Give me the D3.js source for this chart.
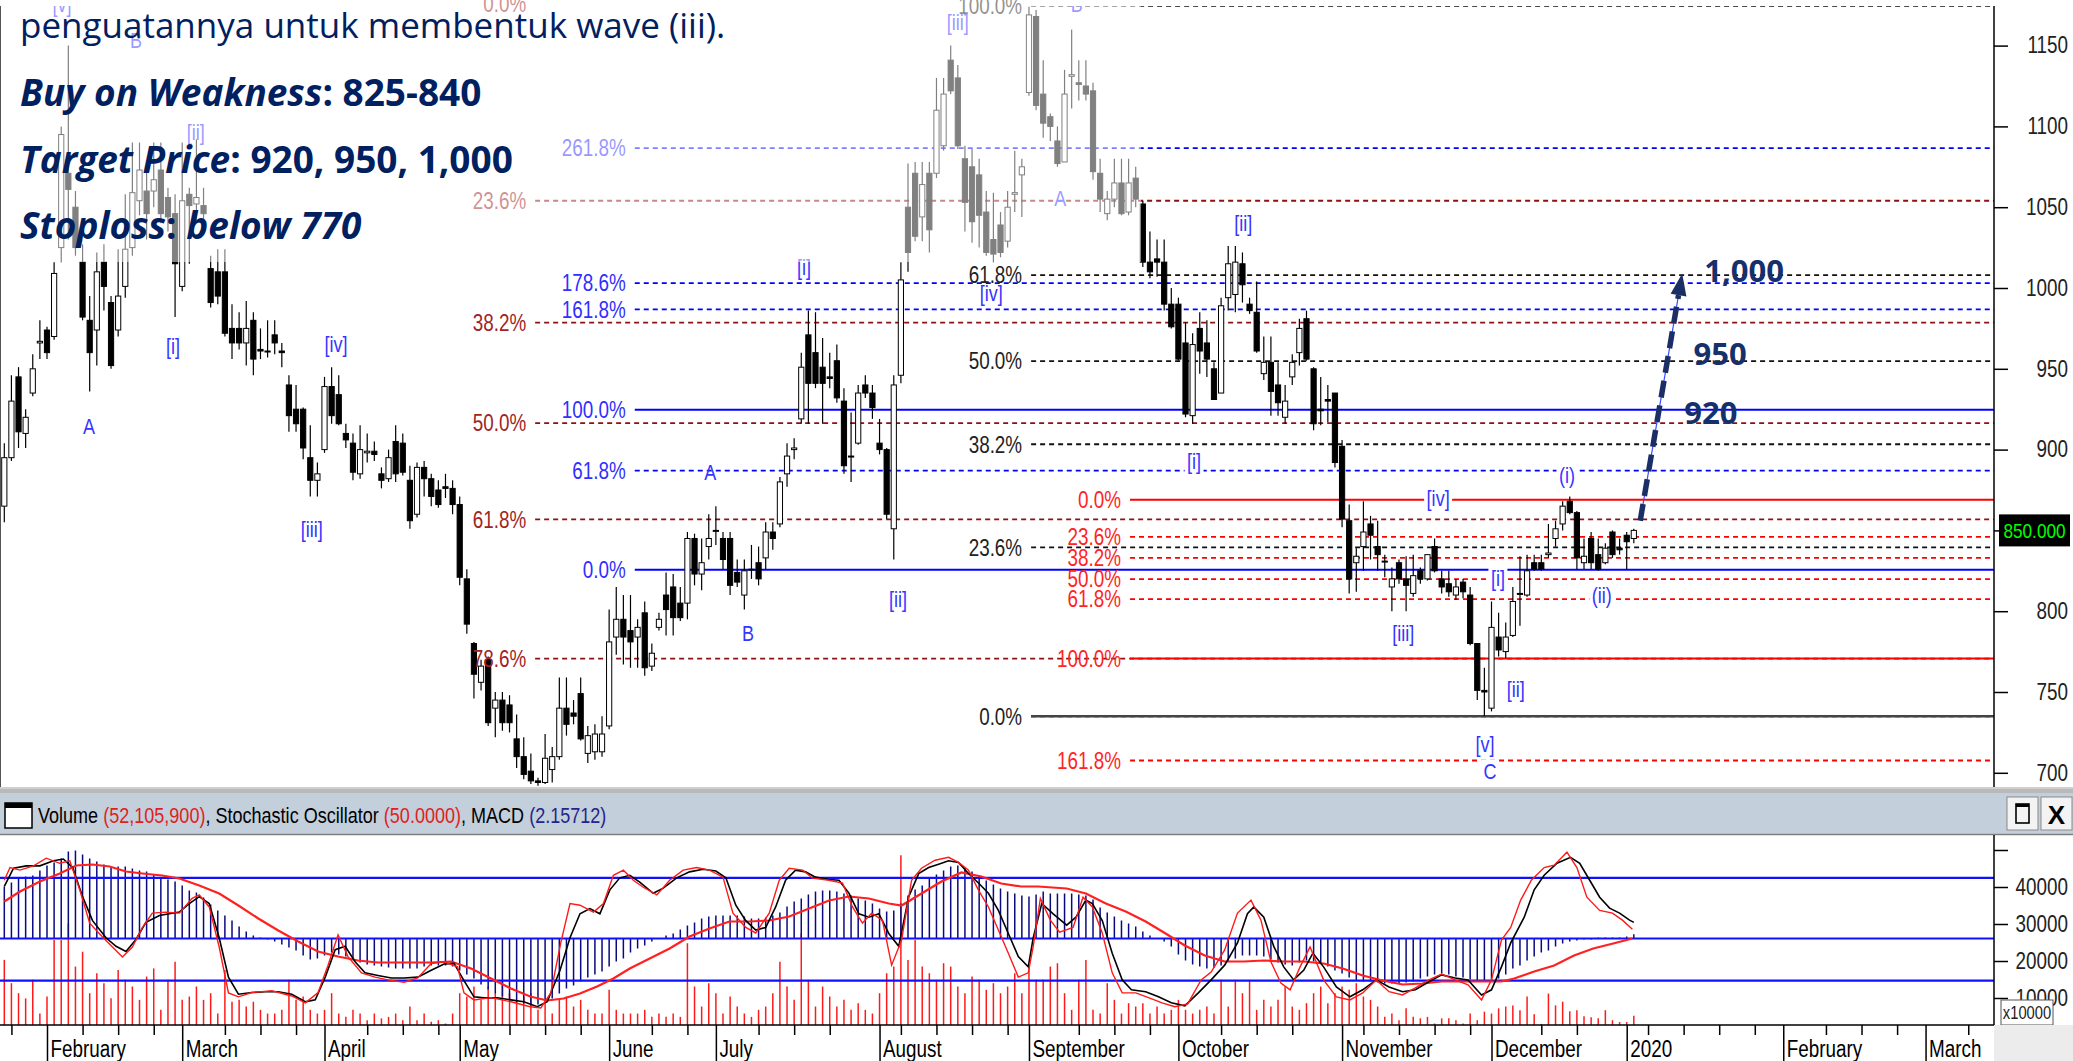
<!DOCTYPE html>
<html>
<head>
<meta charset="utf-8">
<script src="https://cdn.jsdelivr.net/npm/d3@7"></script>
<style>
  html, body { margin: 0; padding: 0; background: #fff; overflow: hidden; }
</style>
</head>
<body>
<div id="chart"></div>
<script>
// ---- daily candles (index 0 = late January 2019, 229 = 30 Dec 2019), rows of 10
var opens = [
  865,895,945,910,935,966,974,970,1025,1071,
  1050,1016,980,974,1016,991,974,1001,1025,1054,
  1060,1060,1073,1056,1046,1001,1058,1052,1051,1012,
  1010,1010,975,975,966,980,962,961,971,961,
  940,925,925,895,881,900,939,934,910,904,
  885,898,899,885,882,905,904,881,860,889,
  882,875,877,876,866,820,780,756,770,740,
  745,742,721,710,701,695,694,702,710,740,
  737,749,712,713,713,729,784,795,788,784,
  799,766,790,810,815,805,805,845,823,840,
  850,845,845,824,810,826,830,833,849,854,
  885,900,919,971,960,951,945,955,930,896,
  904,940,935,904,900,851,946,1050,1071,1044,
  1071,1071,1088,1141,1130,1080,1075,1070,1047,1030,
  1039,1029,1058,1070,1121,1168,1120,1106,1091,1078,
  1131,1127,1125,1122,1071,1046,1055,1065,1047,1068,
  1052,1016,1018,1016,990,990,966,921,975,966,
  950,935,994,996,1015,990,985,947,954,940,
  920,945,960,981,950,925,931,935,902,856,
  830,840,854,840,831,815,830,820,811,825,
  820,840,820,817,810,818,810,780,751,740,
  784,775,785,811,810,830,830,835,845,854,
  868,861,830,845,835,830,849,839,847,845
];
var highs = [
  904,946,951,925,959,980,976,1016,1100,1150,
  1060,1027,995,1022,1027,995,1024,1058,1090,1090,
  1075,1090,1090,1062,1058,1090,1062,1092,1062,1020,
  1024,1024,990,985,992,985,975,980,980,966,
  946,940,926,915,892,945,951,946,916,910,
  915,910,905,889,900,915,910,890,892,893,
  885,881,885,881,871,826,781,770,772,750,
  750,748,736,722,712,697,724,716,759,759,
  745,759,729,730,735,801,815,810,810,795,
  806,780,799,824,823,815,849,848,845,860,
  865,849,849,832,832,841,840,855,855,883,
  904,907,960,986,985,969,960,965,938,923,
  940,946,940,919,901,946,1016,1077,1078,1078,
  1078,1130,1130,1150,1138,1088,1086,1080,1060,1059,
  1047,1060,1085,1080,1174,1172,1141,1108,1100,1135,
  1160,1141,1141,1127,1080,1060,1080,1080,1080,1075,
  1054,1035,1030,1030,1000,994,979,972,985,980,
  954,994,1026,1026,1022,994,1004,970,970,954,
  940,959,981,986,951,945,940,935,906,866,
  839,868,859,856,835,827,832,834,835,827,
  835,845,825,825,820,820,815,780,765,806,
  799,793,815,834,835,835,835,854,856,868,
  871,862,845,849,845,842,850,845,849,851
];
var lows = [
  855,893,901,901,933,956,956,968,1016,1030,
  1020,980,936,952,986,950,970,994,1020,1045,
  1030,1050,1040,1035,982,998,1015,1040,1036,988,
  990,970,956,962,952,946,956,957,959,951,
  911,911,894,871,871,898,916,915,901,881,
  882,892,893,876,880,880,884,851,858,871,
  865,864,870,860,816,786,746,751,729,722,
  726,725,703,696,693,692,693,694,708,723,
  730,720,706,708,710,727,773,767,765,765,
  760,763,788,785,785,794,795,816,813,832,
  841,826,810,815,801,820,816,826,838,852,
  877,894,916,916,938,916,938,929,885,880,
  903,932,919,897,857,832,941,1010,1029,1029,
  1022,1068,1085,1120,1086,1035,1028,1025,1020,1016,
  1019,1025,1047,1044,1119,1110,1093,1091,1075,1078,
  1111,1116,1116,1067,1047,1042,1050,1045,1045,1050,
  1013,1006,1007,986,975,955,920,916,947,945,
  931,935,986,985,991,984,960,943,921,921,
  916,940,952,955,912,915,917,889,852,811,
  812,825,832,825,821,800,817,800,809,817,
  819,824,811,809,807,808,779,745,735,738,
  772,771,784,791,809,825,825,833,840,850,
  860,826,826,826,825,829,833,835,826,842
];
var closes = [
  895,930,911,920,950,967,960,1009,1095,1061,
  1025,982,960,1010,1001,952,995,1024,1059,1073,
  1046,1067,1046,1044,1015,1054,1051,1056,1046,991,
  995,972,966,966,975,956,961,961,966,960,
  921,916,901,881,885,939,921,916,906,886,
  900,899,897,881,895,885,886,856,889,882,
  871,866,876,866,821,792,761,766,731,745,
  731,731,710,699,695,694,709,710,740,730,
  735,721,723,724,724,781,795,784,781,790,
  765,774,795,801,796,796,845,823,830,845,
  850,832,816,818,825,826,820,849,845,880,
  896,901,951,941,941,941,944,932,890,896,
  935,935,926,900,860,940,1005,1022,1032,1064,
  1036,1110,1120,1122,1088,1053,1041,1045,1022,1021,
  1022,1050,1059,1075,1169,1113,1102,1100,1077,1120,
  1132,1126,1120,1072,1055,1055,1065,1046,1065,1055,
  1016,1010,1016,990,976,956,922,965,961,956,
  931,989,1015,1016,1002,986,961,954,936,929,
  930,954,975,956,916,924,930,892,857,820,
  834,849,847,835,831,820,820,816,822,820,
  835,825,815,812,815,812,780,751,750,790,
  776,784,806,811,825,826,826,836,851,865,
  861,833,834,830,826,839,835,838,843,850
];

// volume in units of 10,000 shares
var volume = [
  20300,14000,11300,9900,14900,5800,10400,25700,25700,30200,
  18500,22500,11300,16700,14000,9900,17600,14900,13100,9500,
  15800,18000,6800,14900,19800,9500,10400,13100,9500,11300,
  5800,17600,9000,9500,7700,9000,6800,5800,5800,6800,
  14900,9500,10400,6800,5800,6800,11300,5800,4900,6800,
  5800,4000,5800,4500,4900,5800,4000,7700,4000,5800,
  3600,4000,3100,5800,11300,10400,13100,9500,13100,11300,
  14900,11300,9500,10400,11300,6800,8600,5800,9500,10400,
  7700,9500,6800,5800,5800,12200,6800,5800,5800,5800,
  6800,4900,5800,4900,5800,4900,24800,13100,7700,14000,
  11300,5800,10400,7700,5800,4900,6800,7700,11300,19800,
  13100,9500,27500,14900,7700,13100,10400,7700,9500,6800,
  8600,6800,5800,11300,16700,18500,48600,20300,25700,18500,
  16700,14900,19400,18500,13100,11300,15800,14900,12200,14000,
  11300,13100,16700,11300,18500,14900,14900,18500,19400,11300,
  6800,14900,20300,6800,5800,14000,9500,5800,8600,7700,
  8600,5800,7700,5800,6800,9500,6800,5800,6800,7700,
  5800,14900,7700,14900,11300,14900,6800,9500,7700,9500,
  13100,7700,6800,8600,11300,13100,8600,11300,13100,12200,
  14000,10400,9500,7700,4900,5800,4000,7200,4900,4500,
  4900,3100,4500,4500,4000,3100,5800,4000,6300,5800,
  7200,7700,8000,6700,10400,5600,3000,11200,8000,9000,
  6400,6700,5100,4800,4500,6700,4000,3500,3500,5210.59
];

// MACD histogram, one value per day
var macdHist = [
  26,28,30,31,31.5,34,36.5,38,40,43.5,
  44,42,40,38.5,37,36,36,36,35,34,
  33.5,32,30.5,29.5,28.5,26.5,24,23,20.5,17,
  14,11.5,9,6,3.5,1.5,0.5,-0.5,-1.5,-3,
  -4.5,-6,-8.5,-10.5,-10,-8.5,-7,-8,-9,-10,
  -12,-13,-13.5,-14,-14.5,-15,-15,-15,-15,-14,
  -13.5,-13.5,-13.5,-14,-16,-18,-20,-23,-25.5,-27.5,
  -29,-31,-32,-32.5,-33.5,-33,-32,-30,-27.5,-25,
  -23.5,-21.5,-19.5,-18,-16.5,-14,-11.5,-10,-7,-5,
  -3.5,-1.5,0,1.5,2.5,4.5,6.5,8,10,11,
  11.5,11.5,11.5,11.5,11,10,10,10.5,11.5,13,
  16,18.5,20,22,23.5,24,24,23.5,22.5,21.5,
  20,19,17.5,15,13.5,14,17.5,21.5,24.5,26.5,
  30,32,34,36,36.5,35.5,33.5,31.5,29,27,
  25,23.5,22.5,21.5,21,22,23.5,22.5,22.5,22.5,
  22.5,22,21.5,19.5,15.5,13,11,9,7.5,6,
  3.5,1.5,0,-1.5,-4,-8,-11,-13,-14,-15,
  -14.5,-13.5,-11.5,-10,-8.5,-8.5,-8.5,-9,-10.5,-12,
  -13,-13.5,-12,-11,-11.5,-12.5,-14,-16,-17.5,-19.5,
  -21,-21.5,-21.5,-22,-22.5,-22.5,-22.5,-22,-21.5,-20,
  -19,-18,-17.5,-18,-19,-19.5,-20.5,-21,-21,-21,
  -20,-18,-15,-13.5,-11,-9,-7,-6,-4,-2.5,
  -1.5,-1,-0.5,-0.5,0.5,0.5,0.5,0.5,1,2.15712
];

// MACD signal (thick red), read at day positions
var signalIdx = [0,2.2,5,7.8,10.1,12.4,14.8,17.1,19.4,22.2,
  24.6,27.4,30.2,32.9,35.7,38.5,41.3,44.1,46.9,49.7,
  52.5,56.2,60,62.8,65.6,68.4,71.2,73.9,76.3,78.6,
  80.9,83.3,85.6,87.9,90.7,93.5,96.3,99.1,101.9,104.7,
  107.5,110.3,113.1,115.9,118.7,121.5,124.3,126.1,128.9,131.7,
  134.5,137.3,140.1,142.9,145.3,149.3,152,154.8,157.6,160.4,
  163.2,165.9,168.7,171.5,174.2,177,179.8,182.6,185.4,188.1,
  190.9,193.7,196.5,199.3,202,204.8,207.6,210.4,212.2,215,
  217.8,220.6,223.3,226.1,228.8];
var signalVal = [18.5,23.5,28.5,32.5,36.5,37,36,33.5,32.5,31.5,
  30,26.5,22.5,16.5,10,4,-1.5,-6.5,-9,-11,
  -12,-12,-12,-11.5,-15,-20,-25,-29,-31,-30,
  -27.5,-24,-20,-15,-10,-5,1,5,8.5,8.5,
  9,11,15,19,21,20,17.5,16.5,22.5,28.5,
  33,31,27.5,26,26,25,22.5,17.5,13.5,8.5,
  2.5,-3.5,-8.5,-11.5,-11.5,-11,-11.5,-11.5,-12.5,-15,
  -18.5,-21,-23,-22.5,-21.5,-21.5,-21.5,-21.5,-20,-16.5,
  -13.5,-8.5,-5,-2.5,0];

// stochastic, black (slow) line
var slowIdx = [0,1.3,3.1,5,6.9,8.3,9.6,11,12.4,14.3,
  15.7,17.1,18.5,19.9,21.8,23.2,24.6,26,27.4,28.8,
  30.2,31.5,32.9,34.8,36.7,38.5,40.4,42.3,43.7,45.1,
  46.5,47.9,49.3,50.7,52.5,54.4,56.2,58.1,60,61.8,
  63.2,64.6,66,67.4,69.3,71.2,73,74.9,76.3,78.1,
  79.5,80.9,82.3,83.7,85.1,86.5,87.9,89.3,91.2,92.6,
  94.5,96.3,98.2,100,101.4,102.8,104.2,105.6,107,108.4,
  109.8,111.2,112.6,114,115.9,117.3,118.7,120.1,121.5,122.9,
  124.3,125.7,127.1,128.5,129.9,131.3,132.7,134.1,135.5,136.9,
  138.3,139.7,141.1,142.5,143.9,144.6,145.8,147.4,149.3,150.6,
  152,152.9,154.3,155.7,157.1,158.4,160.4,162.2,164,165.9,
  167.8,169.6,171.5,173.3,174.7,175.6,177,178.4,179.8,181.2,
  182.6,183.9,185.4,187.2,189.1,190.9,192.8,194.6,196.5,198.3,
  200.2,202,203.9,205.7,207.6,209,210.4,211.7,213.6,215,
  216.4,218.2,220.1,221.4,222.8,224.2,225.6,227,228.4,229];
var slowVal = [75,85.6,87,87,90,91,86,69,55,45,
  40,37,44,54,58,59,60,65,69,65,
  45,22,12,13,13.5,13.5,12,7.6,8.7,22,
  38,40,31,24.5,23,21.5,21.5,22,26,29.7,
  30,20,10.5,9.9,10,8.7,7.6,4.7,7.6,26,
  45,59,62,59,73,80,81.5,77.5,71,74,
  80,83.5,85,84,80,64,55,49.5,51,63,
  78.6,84.5,83.5,80.4,79,78.6,71,59,57,59,
  47.5,40,69,82.5,86,88,90,89,82.5,77,
  71,61,47.5,34,28,45,65,59,52.4,57,
  67,65,55,36,20.4,14.6,13.5,10.5,7,5.2,
  12.8,20.4,29,42,59,63,57,40,28,20.4,
  26,36,28,16.3,10.5,14.6,20.4,16.3,13.5,14.6,
  19.3,23.3,21.5,20.4,11.6,14.6,28,42,57,73,
  81.5,88.5,92,88.5,78.6,68.7,62.3,59.4,55.3,54];

// stochastic, thin red (fast) line
var fastIdx = [0,0.8,2.2,4.1,5.9,7.8,9.2,10.6,12,13.8,
  15.2,16.6,18,19.4,20.8,22.7,24.6,26.4,27.4,28.8,
  30.2,31.5,32.9,34.8,37.6,40.4,42.3,44.1,45.5,46.9,
  48.3,50.2,52.1,53.9,56.2,58.1,60,61.8,63.7,64.6,
  66,68.4,71.2,73.9,75.4,76.8,78.2,79.5,80.9,82.8,
  84.2,85.6,87,88.4,89.8,91.7,93.5,95.4,97.3,99.1,
  101,102.4,104.2,105.6,107.5,108.9,110.3,112.2,113.6,115.9,
  117.8,119.2,120.6,121.9,123.4,124.7,126.1,127.5,128.9,130.8,
  132.7,134.1,135.5,136.9,138.3,139.7,141.1,142.5,143.9,144.6,
  145.6,147,148.3,150.2,151.6,152.9,154.3,155.7,157.1,159,
  160.8,162.7,164.5,166.3,168.2,169.6,171.5,173.3,175.2,176.6,
  178,179.4,180.7,182.1,183.5,185.4,187.2,189.1,190.9,192.8,
  194.6,196.5,198.3,200.2,202,203.9,205.7,207.6,209,210.4,
  211.7,213.1,214.6,216.4,217.8,219.6,221,222.4,224.2,226,
  227.4,228.8];
var fastVal = [78.6,86,84.5,87,91.5,88.5,90,73,53.5,45.4,
  39.6,33.8,39.6,51,59.4,60,59.4,68,70,63,
  39.6,12.8,10.5,13,14,11,7,13,29,46.6,
  34,24.5,22,20.4,19,21.5,30,31,28,12.8,
  8.7,10,7.6,4.7,4,12.8,42,65,64,60,
  65,81.5,84.5,78.6,74.5,70,78.6,84.5,86,84.5,
  80.4,59.4,51,47.8,59.4,78.6,85.6,84.5,79.8,78.6,
  76.9,63,53.6,59.4,55.3,29,43.7,78.6,85.6,90.3,
  92,89,84.5,72.8,63,49.5,36,22,24.5,40,
  68,55.3,48.3,51,68.7,63,47.8,24.5,12.8,12.8,
  10,7,4.7,6.4,20.4,25,37.9,59.4,67,55.3,
  31,18.6,14.6,28,39.6,20.4,10.5,8.7,12.8,20.4,
  13.5,11.6,15.7,20.4,23.8,20.4,17.5,8.7,20.4,43.7,
  51,67,78.6,86,87.4,95,86,68.7,61,59.4,
  55.3,50];

// month ticks (day index of first session)
var monthNames = ["February","March","April","May","June","July","August","September","October","November","December","2020","February","March"];
var monthIdx = [6,25,45,64,85,100,123,144,165,188,209,228,250,270];
var priceTicks = [700,750,800,850,900,950,1000,1050,1100,1150];
var volTicks = [10000,20000,30000,40000];

// fibonacci sets: labels, prices, first day of line
var fibALabels = ["0.0%","23.6%","38.2%","50.0%","61.8%","78.6%"];
var fibAPrices = [1176,1054,978.6,916.4,856.8,770.7];
var fibAStart = 74.6;
var fibBLabels = ["261.8%","178.6%","161.8%","100.0%","61.8%","0.0%"];
var fibBPrices = [1086.6,1003,986.8,924.6,887,825.6];
var fibBStart = 88.6;
var fibCLabels = ["100.0%","61.8%","50.0%","38.2%","23.6%","0.0%"];
var fibCPrices = [1174.6,1008,954.8,903.3,839.5,735];
var fibCStart = 144.3;
var fibDLabels = ["0.0%","23.6%","38.2%","50.0%","61.8%","100.0%","161.8%"];
var fibDPrices = [869,846,833,819.8,807.5,770.7,707.6];
var fibDStart = 158.2;

// elliott wave labels
var waveText = ["[v]","B","[ii]","A","[i]","[iv]","[iii]","[iii]","B","A","[i]","[iv]","A","B","[ii]","[ii]","[iii]","[ii]","[v]"];
var waveIdx = [8.1,18.5,26.9,11.9,23.7,46.6,43.2,134,150.7,148.4,112.4,138.7,99.2,104.5,125.6,174.1,196.6,212.4,208.1];
var wavePrice = [1176,1153.5,1096.5,914.6,964,965,851,1164.6,1175.7,1055.7,1013,997,886,786.5,807.5,1040,786.5,752,718];
var boxText = ["[i]","[iv]","[i]","(i)","(ii)","C"];
var boxIdx = [167.2,201.5,209.9,219.6,224.5,208.8];
var boxPrice = [893,870,820.5,884.3,810,701];

// targets
var targetText = ["1,000","950","920"];
var targetIdx = [238.9,237.4,236.1];
var targetPrice = [1004,952.4,915.8];
var arrowFrom = [229.9, 856];
var arrowTo = [235.8, 1009];

var width = 2073, height = 1061;
var plotRight = 1994;

var svg = d3.select("#chart")
  .append("svg")
  .attr("width", width)
  .attr("height", height)
  .style("display", "block");

svg.append("rect").attr("width", width).attr("height", height).attr("fill", "#fff");

// narrow font check
function probeWidth(fam) {
  var t = svg.append("text").attr("font-family", fam).style("font-size", "40px").text("February 1150 Oscillator");
  var w = t.node().getComputedTextLength();
  t.remove();
  return w;
}
var hasNarrow = Math.abs(probeWidth("'Liberation Sans Narrow', monospace") - probeWidth("monospace")) > 1;
var narrowFamily = hasNarrow ? "'Liberation Sans Narrow', 'Arial Narrow', sans-serif" : "'Liberation Sans', Arial, sans-serif";
var squeeze = hasNarrow ? 1 : 0.82;

function ntext(parent, px, py, str, size, fill, anchor) {
  return parent.append("text")
    .attr("transform", "translate(" + px + "," + py + ") scale(" + squeeze + ",1)")
    .attr("text-anchor", anchor || "start")
    .attr("font-family", narrowFamily)
    .style("font-size", size + "px")
    .attr("fill", fill)
    .text(str);
}

// scales
var x = d3.scaleLinear().domain([0, 228]).range([4.3, 1626.7]);
var y = d3.scaleLinear().domain([700, 1150]).range([772.8, 45.6]);
var yStoch = d3.scaleLinear().domain([0, 100]).range([1014.8, 843.6]);
var yMacd = d3.scaleLinear().domain([0, 40]).range([938.5, 858.5]);
var yVol = d3.scaleLinear().domain([0, 40000]).range([1035, 887]);

var defs = svg.append("defs");
defs.append("clipPath").attr("id", "clipPrice")
  .append("rect").attr("x", 0).attr("y", 6).attr("width", plotRight).attr("height", 781);
defs.append("clipPath").attr("id", "clipInd")
  .append("rect").attr("x", 0).attr("y", 835).attr("width", plotRight).attr("height", 190);

var price = svg.append("g").attr("clip-path", "url(#clipPrice)");
var priceLabels = svg.append("g");

// fibonacci lines
function drawFib(labels, prices, start, lineColor, labelColor, solid) {
  var x0 = x(start);
  labels.forEach(function(lab, i) {
    var isSolid = solid.indexOf(lab) >= 0;
    price.append("line")
      .attr("x1", x0).attr("x2", plotRight)
      .attr("y1", y(prices[i])).attr("y2", y(prices[i]))
      .attr("stroke", lineColor)
      .attr("stroke-width", isSolid ? 2 : 1.8)
      .attr("stroke-dasharray", isSolid ? null : "5,4");
    ntext(priceLabels, x0 - 9, y(prices[i]), lab, 23, labelColor, "end").attr("dy", "0.36em");
  });
}
drawFib(fibALabels, fibAPrices, fibAStart, "#8f1010", "#a02424", []);
drawFib(fibBLabels, fibBPrices, fibBStart, "#0000ff", "#2f2fff", ["100.0%","0.0%"]);
drawFib(fibCLabels, fibCPrices, fibCStart, "#111", "#222", []);
drawFib(fibDLabels, fibDPrices, fibDStart, "#ff0000", "#ff2424", ["0.0%","100.0%"]);
// thicker solid 0.0% of the black set
price.append("line")
  .attr("x1", x(fibCStart)).attr("x2", plotRight)
  .attr("y1", y(fibCPrices[5])).attr("y2", y(fibCPrices[5]))
  .attr("stroke", "#444").attr("stroke-width", 2.6);

// candles
var candles = price.append("g");
closes.forEach(function(c, i) {
  var o = opens[i], cx = x(i);
  candles.append("line")
    .attr("x1", cx).attr("x2", cx)
    .attr("y1", y(highs[i])).attr("y2", y(lows[i]))
    .attr("stroke", "#000").attr("stroke-width", 1.2);
  var top = y(Math.max(o, c)), bot = y(Math.min(o, c));
  candles.append("rect")
    .attr("x", cx - 2.6).attr("y", top)
    .attr("width", 5.2).attr("height", Math.max(1, bot - top))
    .attr("fill", c >= o ? "#fff" : "#000")
    .attr("stroke", "#000").attr("stroke-width", 1);
});

// wave labels
waveText.forEach(function(t, i) {
  ntext(price, x(waveIdx[i]), y(wavePrice[i]), t, 22, "#3535ff", "middle").attr("dy", "0.36em");
});
boxText.forEach(function(t, i) {
  var g = price.append("g");
  var tx = ntext(g, x(boxIdx[i]), y(boxPrice[i]), t, 22, "#3535ff", "middle").attr("dy", "0.36em");
  var bb = tx.node().getBBox();
  g.insert("rect", "text")
    .attr("transform", tx.attr("transform"))
    .attr("x", bb.x - 3).attr("y", bb.y)
    .attr("width", bb.width + 6).attr("height", bb.height)
    .attr("fill", "#fff");
});

// target arrow
var p0 = [x(arrowFrom[0]), y(arrowFrom[1])], p1 = [x(arrowTo[0]), y(arrowTo[1])];
var dx = p1[0] - p0[0], dy = p1[1] - p0[1], len = Math.sqrt(dx * dx + dy * dy);
var ux = dx / len, uy = dy / len;
var base = [p1[0] - ux * 22, p1[1] - uy * 22];
svg.append("line")
  .attr("x1", p0[0]).attr("y1", p0[1]).attr("x2", base[0]).attr("y2", base[1])
  .attr("stroke", "#3a4cff").attr("stroke-width", 1.2);
svg.append("line")
  .attr("x1", p0[0]).attr("y1", p0[1]).attr("x2", base[0]).attr("y2", base[1])
  .attr("stroke", "#1b2f66").attr("stroke-width", 5.5).attr("stroke-dasharray", "17,8");
svg.append("polygon")
  .attr("points", [p1, [base[0] - uy * 8, base[1] + ux * 8], [base[0] + uy * 8, base[1] - ux * 8]].map(function(p) { return p.join(","); }).join(" "))
  .attr("fill", "#1b2f66");

targetText.forEach(function(t, i) {
  svg.append("text")
    .attr("x", x(targetIdx[i])).attr("y", y(targetPrice[i]))
    .attr("font-family", "'Open Sans', 'Noto Sans', sans-serif")
    .style("font-size", "31px").style("font-weight", "bold")
    .attr("fill", "#16306b")
    .text(t);
});

// faded box behind the note text
svg.append("rect").attr("x", 0).attr("y", 0).attr("width", 1141).attr("height", 262)
  .attr("fill", "#fff").attr("opacity", 0.5);

// note text
var note = svg.append("g")
  .attr("font-family", "'Open Sans', 'Noto Sans', sans-serif")
  .attr("fill", "#002060");
note.append("text").attr("x", 20).attr("y", 38).style("font-size", "35px")
  .text("penguatannya untuk membentuk wave (iii).");
var l1 = note.append("text").attr("x", 20).attr("y", 106).style("font-size", "37px").style("font-weight", "bold");
l1.append("tspan").style("font-style", "italic").text("Buy on Weakness");
l1.append("tspan").text(": 825-840");
var l2 = note.append("text").attr("x", 20).attr("y", 173).style("font-size", "37px").style("font-weight", "bold");
l2.append("tspan").style("font-style", "italic").text("Target Price");
l2.append("tspan").text(": 920, 950, 1,000");
var l3 = note.append("text").attr("x", 20).attr("y", 239).style("font-size", "37px").style("font-weight", "bold");
l3.append("tspan").style("font-style", "italic").text("Stoploss");
l3.append("tspan").text(": ");
l3.append("tspan").style("font-style", "italic").text("below 770");

// left border of price panel
svg.append("line").attr("x1", 0.5).attr("x2", 0.5).attr("y1", 6).attr("y2", 787)
  .attr("stroke", "#555").attr("stroke-width", 1);

// price axis (850 sits under the last price box)
var lastClose = closes[closes.length - 1];
var pAxis = svg.append("g").attr("transform", "translate(" + plotRight + ",0)");
pAxis.append("line").attr("y1", 6).attr("y2", 787).attr("stroke", "#000").attr("stroke-width", 1.5);
pAxis.call(d3.axisRight(y).tickValues(d3.range(690, 1180, 10)).tickSize(5).tickFormat(""));
pAxis.call(d3.axisRight(y).tickValues(priceTicks).tickSize(14)
  .tickFormat(function(d) { return d === lastClose ? "" : d; }));
pAxis.selectAll(".domain").remove();
pAxis.selectAll("line").attr("stroke", "#000").attr("stroke-width", 1.5);
pAxis.selectAll("text")
  .attr("text-anchor", "end")
  .attr("x", 74 / squeeze)
  .attr("transform", "scale(" + squeeze + ",1)")
  .attr("font-family", narrowFamily)
  .style("font-size", "23px")
  .attr("fill", "#222");

// last price box
svg.append("rect").attr("x", 1999).attr("y", y(lastClose) - 16).attr("width", 71).attr("height", 32).attr("fill", "#000");
ntext(svg, 2034.5, y(lastClose), d3.format(".3f")(lastClose), 21, "#00ff00", "middle").attr("dy", "0.36em");

// panel separator and indicator header
svg.append("rect").attr("x", 0).attr("y", 787).attr("width", width).attr("height", 6).attr("fill", "#b9b9b9");
svg.append("line").attr("x1", 0).attr("x2", width).attr("y1", 788).attr("y2", 788).attr("stroke", "#e6e6e6");
svg.append("rect").attr("x", 0).attr("y", 793).attr("width", width).attr("height", 41).attr("fill", "#c3cfdb");
svg.append("line").attr("x1", 0).attr("x2", width).attr("y1", 834.5).attr("y2", 834.5).attr("stroke", "#7f7f7f").attr("stroke-width", 1.5);

// header icon
svg.append("rect").attr("x", 5).attr("y", 803).attr("width", 27).attr("height", 25).attr("fill", "#fff").attr("stroke", "#000").attr("stroke-width", 1.5);
svg.append("rect").attr("x", 5).attr("y", 803).attr("width", 27).attr("height", 5).attr("fill", "#000");

var lastVol = volume[volume.length - 1];
var lastStoch = fastVal[fastVal.length - 1];
var lastMacd = macdHist[macdHist.length - 1];
var head = ntext(svg, 38, 823, "", 22, "#000", "start");
head.append("tspan").text("Volume ");
head.append("tspan").attr("fill", "#e01e1e").text("(" + d3.format(",")(Math.round(lastVol * 10000)) + ")");
head.append("tspan").text(", Stochastic Oscillator ");
head.append("tspan").attr("fill", "#e01e1e").text("(" + d3.format(".4f")(lastStoch) + ")");
head.append("tspan").text(", MACD ");
head.append("tspan").attr("fill", "#24248c").text("(" + d3.format(".5f")(lastMacd) + ")");

// header buttons
[2007, 2041].forEach(function(bx, k) {
  svg.append("rect").attr("x", bx).attr("y", 797).attr("width", 31).attr("height", 33)
    .attr("fill", "#f3f3f3").attr("stroke", "#8a8a8a");
  if (k === 0) {
    svg.append("rect").attr("x", bx + 9).attr("y", 804).attr("width", 13).attr("height", 19)
      .attr("fill", "none").attr("stroke", "#000").attr("stroke-width", 1.6);
    svg.append("rect").attr("x", bx + 9).attr("y", 804).attr("width", 13).attr("height", 3).attr("fill", "#000");
  } else {
    svg.append("text").attr("x", bx + 15.5).attr("y", 824).attr("text-anchor", "middle")
      .attr("font-family", "'Liberation Sans', Arial, sans-serif").style("font-size", "26px").style("font-weight", "bold")
      .text("X");
  }
});

// indicator panel
var ind = svg.append("g").attr("clip-path", "url(#clipInd)");

ind.selectAll(".vol").data(volume).enter().append("line")
  .attr("x1", function(d, i) { return x(i); }).attr("x2", function(d, i) { return x(i); })
  .attr("y1", yVol(0)).attr("y2", function(d) { return yVol(d); })
  .attr("stroke", "#ff1a1a").attr("stroke-width", 1.5);

ind.selectAll(".hist").data(macdHist).enter().append("line")
  .attr("x1", function(d, i) { return x(i); }).attr("x2", function(d, i) { return x(i); })
  .attr("y1", yMacd(0)).attr("y2", function(d) { return yMacd(d); })
  .attr("stroke", "#0a0a80").attr("stroke-width", 1.5);

[yStoch(80), yMacd(0), yStoch(20)].forEach(function(ly) {
  ind.append("line").attr("x1", 0).attr("x2", plotRight).attr("y1", ly).attr("y2", ly)
    .attr("stroke", "#1010ff").attr("stroke-width", 2.2);
});

function pts(idx, vals, sc) {
  return idx.map(function(d, i) { return [x(d), sc(vals[i])]; });
}
var line = d3.line();
ind.append("path").attr("d", line(pts(signalIdx, signalVal, yMacd)))
  .attr("fill", "none").attr("stroke", "#ff2020").attr("stroke-width", 2.2);
ind.append("path").attr("d", line(pts(slowIdx, slowVal, yStoch)))
  .attr("fill", "none").attr("stroke", "#000").attr("stroke-width", 1.6);
ind.append("path").attr("d", line(pts(fastIdx, fastVal, yStoch)))
  .attr("fill", "none").attr("stroke", "#ff1a1a").attr("stroke-width", 1.4);

// indicator right axis
var vAxis = svg.append("g").attr("transform", "translate(" + plotRight + ",0)");
vAxis.append("line").attr("y1", 835).attr("y2", 1025).attr("stroke", "#000").attr("stroke-width", 1.5);
vAxis.call(d3.axisRight(yVol).tickValues(d3.range(5000, 55000, 5000)).tickSize(5).tickFormat(""));
vAxis.call(d3.axisRight(yVol).tickValues(volTicks.concat([50000])).tickSize(14)
  .tickFormat(function(d) { return volTicks.indexOf(d) >= 0 ? d : ""; }));
vAxis.selectAll(".domain").remove();
vAxis.selectAll("line").attr("stroke", "#000").attr("stroke-width", 1.5);
vAxis.selectAll("text")
  .attr("text-anchor", "end")
  .attr("x", 74 / squeeze)
  .attr("transform", "scale(" + squeeze + ",1)")
  .attr("font-family", narrowFamily)
  .style("font-size", "23px")
  .attr("fill", "#222");
svg.append("rect").attr("x", 2001).attr("y", 1000).attr("width", 52).attr("height", 25)
  .attr("fill", "#fff").attr("stroke", "#555");
ntext(svg, 2027, 1013, "x10000", 18, "#222", "middle").attr("dy", "0.36em");

// time axis
svg.append("rect").attr("x", plotRight).attr("y", 1025).attr("width", width - plotRight).attr("height", 36).attr("fill", "#ececec");
svg.append("line").attr("x1", 0).attr("x2", plotRight).attr("y1", 1025).attr("y2", 1025).attr("stroke", "#000").attr("stroke-width", 1.5);
var weekIdx = d3.range(1, 280, 5).filter(function(d) {
  return monthIdx.every(function(m) { return Math.abs(m - d) > 2; });
});
var tAxis = svg.append("g").attr("transform", "translate(0,1025)");
tAxis.append("g").call(d3.axisBottom(x).tickValues(weekIdx).tickSize(10).tickFormat(""));
var mAxis = tAxis.append("g").call(d3.axisBottom(x).tickValues(monthIdx).tickSize(36)
  .tickFormat(function(d, i) { return monthNames[i]; }));
tAxis.selectAll(".domain").remove();
tAxis.selectAll("line").attr("stroke", "#000").attr("stroke-width", 1.5);
mAxis.selectAll("text")
  .attr("text-anchor", "start")
  .attr("x", 3 / squeeze)
  .attr("y", 32)
  .attr("dy", null)
  .attr("transform", "scale(" + squeeze + ",1)")
  .attr("font-family", narrowFamily)
  .style("font-size", "23px")
  .attr("fill", "#000");
</script>
</body>
</html>
